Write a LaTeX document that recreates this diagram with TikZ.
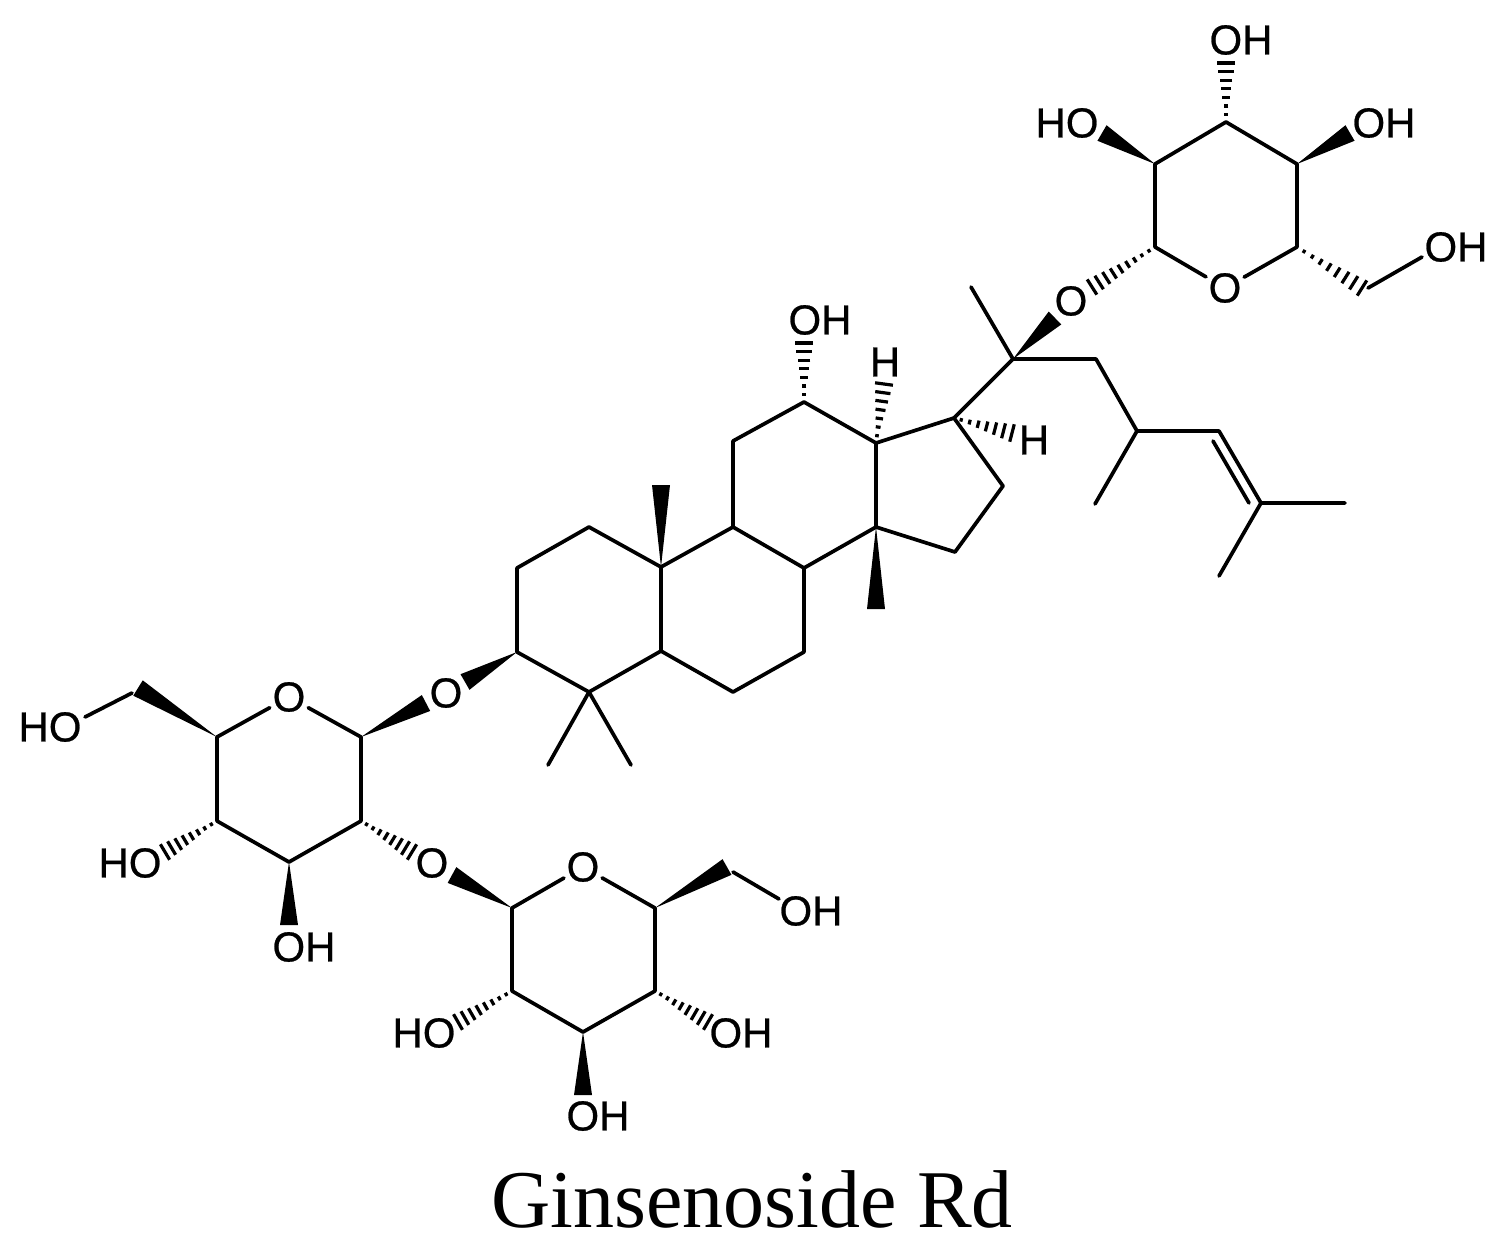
\documentclass[tikz,border=0pt]{standalone}
\usepackage{fontspec}
\setmainfont{Liberation Sans}
\newfontfamily\labfont[FakeBold=0.6]{Liberation Sans}
\newfontfamily\titlefont{Liberation Serif}
\usetikzlibrary{calc}
\tikzset{
  bond/.style={line width=3.7pt,line cap=round,line join=round,black},
  atomlab/.style={inner sep=0pt,outer sep=0pt,text=black,font=\labfont\fontsize{42}{48}\selectfont},
  ringO/.style={atomlab,circle,minimum size=44pt},
  hashmark/.style={line width=3.2pt,black},
}
\newcommand{\wedgebond}[2]{\fill[black] (#1) -- ($(#2)!9pt!90:(#1)$) -- ($(#2)!9pt!-90:(#1)$) -- cycle;}
\newcommand{\hashbond}[3]{%
  \foreach \i in {1,...,#3}{%
    \pgfmathsetmacro{\tt}{(\i-0.15)/(#3-0.15)}%
    \pgfmathsetmacro{\ww}{max(1.8,9*\tt)}%
    \draw[hashmark] ($(#1)!\tt!(#2)!\ww pt!90:(#1)$) -- ($(#1)!\tt!(#2)!\ww pt!-90:(#1)$);
  }}
\begin{document}
\begin{tikzpicture}[x=1pt,y=-1pt]
\useasboundingbox (0,0) rectangle (1507,1248);
% steroid skeleton
\coordinate (C1) at (589,527);
\coordinate (C2) at (517,568);
\coordinate (C3) at (517,652);
\coordinate (C4) at (589,692);
\coordinate (C5) at (661,651);
\coordinate (C6) at (733,692);
\coordinate (C7) at (804,652);
\coordinate (C8) at (804,568);
\coordinate (C9) at (733,527);
\coordinate (C10) at (661,567);
\coordinate (C11) at (733,441);
\coordinate (C12) at (804,402);
\coordinate (C13) at (876,443);
\coordinate (C14) at (876,527);
\coordinate (C15) at (955,552);
\coordinate (C16) at (1003,486);
\coordinate (C17) at (954,418);
\coordinate (C18) at (661,485);
\coordinate (C19) at (876,609);
\coordinate (C20) at (1013,359);
\coordinate (C21) at (971,287);
\coordinate (C22) at (1096,359);
\coordinate (C23) at (1137,431);
\coordinate (C24) at (1219,431);
\coordinate (C25) at (1261,503);
\coordinate (C26) at (1345,503);
\coordinate (C27) at (1219,576);
\coordinate (C28) at (1095,504);
\coordinate (C29) at (548,765);
\coordinate (C30) at (631,765);
\coordinate (DBa) at (1213,441);
\coordinate (DBb) at (1249,503);
% top sugar
\coordinate (T1) at (1155,247);
\coordinate (T2) at (1155,164);
\coordinate (T3) at (1226,122);
\coordinate (T4) at (1297,164);
\coordinate (T5) at (1297,247);
\coordinate (T6h) at (1362,288);
\coordinate (T6) at (1368,288);
\coordinate (T6e) at (1422,257);
\coordinate (T2w) at (1102,133);
\coordinate (T3h) at (1226,63);
\coordinate (T4w) at (1350,133);
\coordinate (T1h) at (1092,287);
\coordinate (C20w) at (1055,318);
\coordinate (C12h) at (804,343);
\coordinate (C13h) at (884,384);
\coordinate (C17h) at (1012,433);
% lower sugar
\coordinate (L1) at (361,737);
\coordinate (L2) at (361,821);
\coordinate (L3) at (289,862);
\coordinate (L4) at (217,821);
\coordinate (L5) at (217,737);
\coordinate (L6w) at (138,688);
\coordinate (L6) at (132,693);
\coordinate (L6e) at (85,717);
\coordinate (L1w) at (426,703);
\coordinate (C3w) at (465,682);
\coordinate (L3w) at (289,925);
\coordinate (L4h) at (165,852);
\coordinate (L2h) at (412,852);
% bottom sugar
\coordinate (B1) at (512,908);
\coordinate (B2) at (512,991);
\coordinate (B3) at (583,1032);
\coordinate (B4) at (655,991);
\coordinate (B5) at (655,908);
\coordinate (B6w) at (727,867);
\coordinate (B6) at (733,872);
\coordinate (B6e) at (779,899);
\coordinate (B1w) at (452,875);
\coordinate (B3w) at (583,1095);
\coordinate (B2h) at (458,1022);
\coordinate (B4h) at (708,1022);
% labels
\node[ringO] (Otr) at (1225,288) {O};
\node[ringO] (Olr) at (289,697) {O};
\node[ringO] (Obr) at (583,867) {O};
\node[atomlab] (Oa) at (1071,301) {O};
\node[atomlab] (Ob) at (446,693) {O};
\node[atomlab] (Oc) at (432,863) {O};
\node[atomlab] (oh1) at (1241,40) {OH};
\node[atomlab] (oh2) at (1067,123) {HO};
\node[atomlab] (oh3) at (1384,123) {OH};
\node[atomlab] (oh4) at (1456,247) {OH};
\node[atomlab] (oh5) at (820,320) {OH};
\node[atomlab] (h1) at (885,362) {H};
\node[atomlab] (h2) at (1034,440) {H};
\node[atomlab] (oh6) at (50,727) {HO};
\node[atomlab] (oh7) at (130,863) {HO};
\node[atomlab] (oh8) at (304,947) {OH};
\node[atomlab] (oh9) at (811,911) {OH};
\node[atomlab] (oh10) at (741,1033) {OH};
\node[atomlab] (oh11) at (598,1116) {OH};
\node[atomlab] (oh12) at (424,1033) {HO};
\node[inner sep=0pt,text=black,font=\titlefont\fontsize{82}{90}\selectfont] (title) at (752,1199) {Ginsenoside Rd};
% skeleton bonds
\draw[bond] (C3)--(C2)--(C1)--(C10)--(C5)--(C4)--cycle;
\draw[bond] (C10)--(C9)--(C8)--(C7)--(C6)--(C5);
\draw[bond] (C9)--(C11)--(C12)--(C13)--(C14)--(C8);
\draw[bond] (C13)--(C17)--(C16)--(C15)--(C14);
\draw[bond] (C17)--(C20)--(C22)--(C23)--(C24)--(C25)--(C26);
\draw[bond] (C20)--(C21);
\draw[bond] (C23)--(C28);
\draw[bond] (C25)--(C27);
\draw[bond] (DBa)--(DBb);
\draw[bond] (C4)--(C29);
\draw[bond] (C4)--(C30);
\wedgebond{C10}{C18}
\wedgebond{C14}{C19}
\hashbond{C12}{C12h}{7}
\hashbond{C13}{C13h}{7}
\hashbond{C17}{C17h}{7}
\wedgebond{C20}{C20w}
% top sugar bonds
\draw[bond] (Otr)--(T1)--(T2)--(T3)--(T4)--(T5)--(Otr);
\wedgebond{T2}{T2w}
\hashbond{T3}{T3h}{7}
\wedgebond{T4}{T4w}
\hashbond{T1}{T1h}{9}
\hashbond{T5}{T6h}{8}
\draw[bond] (T6)--(T6e);
% lower sugar bonds
\draw[bond] (Olr)--(L1)--(L2)--(L3)--(L4)--(L5)--(Olr);
\wedgebond{L1}{L1w}
\wedgebond{C3}{C3w}
\wedgebond{L5}{L6w}
\draw[bond] (L6)--(L6e);
\hashbond{L4}{L4h}{8}
\wedgebond{L3}{L3w}
\hashbond{L2}{L2h}{8}
% bottom sugar bonds
\draw[bond] (Obr)--(B1)--(B2)--(B3)--(B4)--(B5)--(Obr);
\wedgebond{B1}{B1w}
\wedgebond{B5}{B6w}
\draw[bond] (B6)--(B6e);
\wedgebond{B3}{B3w}
\hashbond{B2}{B2h}{8}
\hashbond{B4}{B4h}{8}
\end{tikzpicture}
\end{document}
